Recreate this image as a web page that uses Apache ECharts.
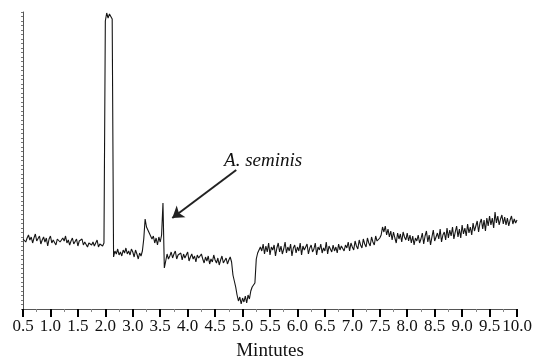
<!DOCTYPE html>
<html><head><meta charset="utf-8">
<script src="https://cdn.jsdelivr.net/npm/echarts@6/dist/echarts.min.js"></script>
<style>html,body{margin:0;padding:0;background:#fff}#c{width:537px;height:360px}</style>
</head><body><div id="c"></div>
<script>
// Tick labels as printed on the original axis (equally spaced ticks)
const tickLabels = ['0.5','1.0','1.5','2.0','3.0','3.5','4.0','4.5','5.0','5.5','6.0','6.5','7.0','7.5','8.0','8.5','9.0','9.5','10.0'];
// Sampling step along the axis (in tick units)
const sampleStep = 0.05;
// Signal segments (arbitrary detector units)
const baselineStart = [70,72,67,71,74,69,72,66,71,75,68,70,73,65,69,72,67,71,63,70,
  73,66,69,71,64,70,72,67,65,71,68,73,66,69,64,68,71,65,67,70,
  63,68,66,70,64,67,69,62,66,68,64,67,63,66,69,62,65,67,63,66];
const mainPeak = [288,296,291,295,293,290];
const afterPeak = [52,58,55,60,54,57,53,59,56,61,55,58,54,60,57,52,59,55,50,56,53,58];
const seminisRegion = [70,90,82,84,76,78,70,73,66,71,64,72,67,74,106,41,48,55,50];
const midBaseline = [53,57,51,55,58,50,54,52,56,49,55,51,53,57,48,52,55,50,53,47,
  54,51,49,55,50,46,52,48,53,45,50,47,54,49,46,51,44,49,53,46,
  48,51,45,49,52,47];
const negativeDip = [34,28,22,14,8,12,5,11,7,13,6,14,10,18,22,20,26,50,56,58,62];
const plateau = [58,65,55,63,57,66,54,62,59,64,53,61,66,57,63,55,60,67,56,62,
  58,65,53,61,64,56,62,58,66,54,63,59,57,65,55,61,64,57,60,66,
  54,62,59,65,56,61,58,67,55,63,60,57,64,58,62,56,65,59,63,61,
  58,64];
const slowRise = [61,67,58,66,62,59,68,63,60,69,64,61,70,65,62,71,66,63,72,67,
  64,73,68,66,71];
const stepRegion = [74,82,77,83,74,80,72,78,69,77,71,66,76,70,75,67,77,72,69,76,68,74,66,73,64,71,68,74,66];
const tail = [70,76,65,73,78,67,74,64,72,79,68,66,76,70,80,67,74,77,69,81,
  71,79,73,82,70,77,83,72,80,71,84,75,81,73,85,76,82,74,86,78,
  80,88,77,86,90,80,89,78,91,83,93,84,91,81,97,86,93,84,90,94,
  85,92,84,91,83,89,93,85,90,86,89];
// Annotation
const annotationText = 'A. seminis';
const arrowFrom = [7.77, 139];
const arrowTo = [5.44, 91];
const textAt = [8.75, 148];

const signal = [].concat(baselineStart, mainPeak, afterPeak, seminisRegion, midBaseline,
  negativeDip, plateau, slowRise, stepRegion, tail);
const data = signal.map((v, i) => [+(i * sampleStep).toFixed(2), v]);

const chart = echarts.init(document.getElementById('c'), null, {renderer: 'canvas'});
const serif = '"Liberation Serif", "Times New Roman", serif';
chart.setOption({
  animation: false,
  backgroundColor: '#fff',
  grid: {left: 23, right: 20, top: 12, bottom: 51, containLabel: false, outerBoundsMode: 'none'},
  xAxis: {
    type: 'value', min: 0, max: tickLabels.length - 1, interval: 1,
    name: 'Mintutes', nameLocation: 'middle', nameGap: 33,
    nameTextStyle: {fontFamily: serif, fontSize: 19, color: '#111'},
    axisLine: {onZero: false, lineStyle: {color: '#555', width: 1}},
    axisTick: {show: true, length: 8, lineStyle: {color: '#000', width: 2}},
    minorTick: {show: true, splitNumber: 2, length: 3, lineStyle: {color: '#888', width: 1}},
    splitLine: {show: false},
    axisLabel: {fontFamily: serif, fontSize: 17, color: '#111', margin: 9,
      showMinLabel: true, showMaxLabel: true,
      formatter: v => tickLabels[Math.round(v)] || ''}
  },
  yAxis: {
    type: 'value', min: 0, max: 297, interval: 4.5,
    axisLine: {show: true, lineStyle: {color: '#555', width: 1}},
    axisTick: {show: true, length: 2, lineStyle: {color: '#777'}},
    axisLabel: {show: false},
    splitLine: {show: false}
  },
  series: [{
    type: 'line', data: data, showSymbol: false, symbol: 'none',
    lineStyle: {color: '#151515', width: 1.1}, silent: true,
    markLine: {
      silent: true, symbol: ['none', 'arrow'], symbolSize: 11,
      lineStyle: {color: '#222', width: 2, type: 'solid'},
      label: {show: false},
      data: [[{coord: arrowFrom}, {coord: arrowTo}]]
    },
    markPoint: {
      silent: true, symbol: 'circle', symbolSize: 0,
      data: [{coord: textAt, value: annotationText}],
      label: {show: true, formatter: annotationText, position: 'inside',
        fontFamily: serif, fontStyle: 'italic', fontSize: 19, color: '#111'}
    }
  }]
});
</script></body></html>
